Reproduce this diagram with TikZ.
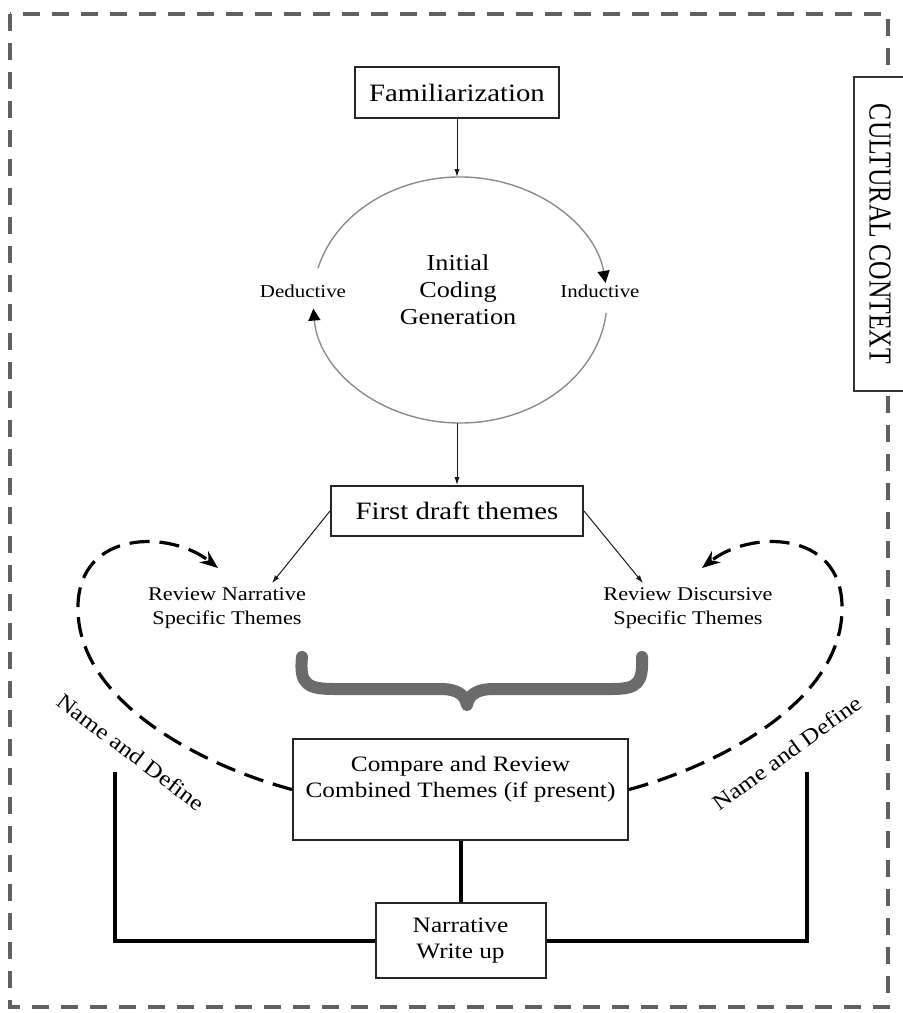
\documentclass[tikz,border=0pt]{standalone}
\usepackage{fontspec}
\setmainfont{Liberation Serif}[FakeStretch=1.15]
\newfontfamily\ccfont{Liberation Serif}[FakeStretch=0.8]
\usetikzlibrary{arrows.meta}
\begin{document}
\begin{tikzpicture}[x=0.5pt,y=0.5pt,
    stepbox/.style={draw=black!85,line width=1pt,inner sep=0pt,align=center},
    thinarrow/.style={draw=black!90,line width=0.5pt,-{Latex[length=4pt,width=2.6pt]}},
    loopline/.style={draw=black!45,line width=0.7pt,-{Triangle[length=6pt,width=6pt,black]}},
    hookline/.style={draw=black,line width=1.6pt,dash pattern=on 10pt off 5pt,-{Stealth[length=9pt,width=7pt]}},
    postline/.style={draw=black,line width=2pt},
    curlybar/.style={draw=black!58,line width=6pt,line cap=round,line join=round},
    frameline/.style={draw=black!62,line width=2pt,dash pattern=on 8.5pt off 6pt},
    sidelabel/.style={inner sep=0pt,font=\fontsize{9.1}{11}\selectfont},
    reviewtext/.style={inner sep=2pt,align=center,font=\fontsize{9.7}{12}\selectfont},
    ndtext/.style={inner sep=0pt,font=\fontsize{11}{13}\selectfont}]
    \useasboundingbox (0,0) rectangle (903,-1013);
    \draw[frameline] (10,-14) rectangle (888,-1007);
    \node[stepbox,draw=black!80,fill=white,rotate=-90,minimum width=157pt,minimum height=26pt,font=\ccfont\fontsize{16}{18}\selectfont] (cc) at (880,-234) {CULTURAL CONTEXT};
    \node[stepbox,minimum width=102pt,minimum height=25.5pt,font=\fontsize{12.5}{15}\selectfont] (fam) at (457,-92.5) {Familiarization};
    \coordinate (rc) at (460,-300);
    \coordinate (rtop) at (457,-177);
    \coordinate (rbot) at (457,-423);
    \draw[loopline] ([shift={(165:147 and 123)}]rc) arc[start angle=165,end angle=8,x radius=147,y radius=123];
    \draw[loopline] ([shift={(-6:147 and 123)}]rc) arc[start angle=-6,end angle=-176,x radius=147,y radius=123];
    \node[align=center,inner sep=0pt,font=\fontsize{11.4}{13.5}\selectfont] (icg) at (458,-290) {Initial\\Coding\\Generation};
    \node[sidelabel] (ded) at (303,-291) {Deductive};
    \node[sidelabel] (ind) at (600,-291) {Inductive};
    \node[stepbox,minimum width=126pt,minimum height=25pt,font=\fontsize{12.5}{15}\selectfont] (fd) at (457,-511) {First draft themes};
    \draw[thinarrow] (fam) -- (rtop);
    \draw[thinarrow] (rbot) -- (fd);
    \node[reviewtext] (rn) at (227,-608) {Review Narrative\\Specific Themes};
    \node[reviewtext] (rd) at (688,-608) {Review Discursive\\Specific Themes};
    \draw[thinarrow] (fd.west) -- ([xshift=22.5pt]rn.north);
    \draw[thinarrow] (fd.east) -- ([xshift=-22.5pt]rd.north);
    \draw[curlybar] (302,-657) .. controls (299,-685) and (308,-689) .. (335,-689) -- (440,-689)
        .. controls (458,-689) and (465,-695) .. (467,-705) .. controls (469,-695) and (476,-689) .. (494,-689)
        -- (612,-689) .. controls (638,-689) and (643,-683) .. (642,-657);
    \node[stepbox,minimum width=167.5pt,minimum height=50.5pt,font=\fontsize{11}{13}\selectfont] (cmp) at (460.5,-789.5) {Compare and Review\\Combined Themes (if present)\\\mbox{}};
    \coordinate (lhook) at (218,-568);
    \coordinate (rhook) at (702,-568);
    \draw[hookline] (cmp.west) .. controls (200,-765) and (75,-700) .. (78,-605) .. controls (80,-530) and (170,-530) .. (lhook);
    \draw[hookline] (cmp.east) .. controls (720,-765) and (845,-700) .. (842,-605) .. controls (840,-530) and (750,-530) .. (rhook);
    \node[ndtext,rotate=-37] (ndl) at (131,-752) {Name and Define};
    \node[ndtext,rotate=36] (ndr) at (787,-753) {Name and Define};
    \node[stepbox,minimum width=85pt,minimum height=37.5pt,font=\fontsize{11}{13}\selectfont] (nwu) at (460.5,-940.5) {Narrative\\Write up};
    \coordinate (lpost) at (115,-772);
    \coordinate (rpost) at (807,-772);
    \draw[postline] (cmp) -- (nwu);
    \draw[postline] (nwu.west) -| (lpost);
    \draw[postline] (nwu.east) -| (rpost);
\end{tikzpicture}
\end{document}
